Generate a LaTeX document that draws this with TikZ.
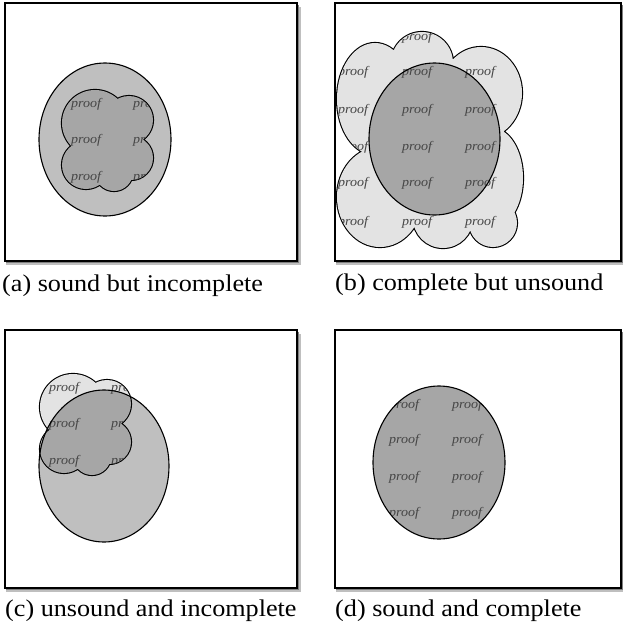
\documentclass[tikz,border=0pt]{standalone}
\usepackage{fontspec}
\setmainfont{Liberation Serif}
\definecolor{lightfill}{gray}{0.89}
\definecolor{midfill}{gray}{0.75}
\definecolor{darkfill}{gray}{0.65}
\definecolor{prooftext}{gray}{0.27}
% cloud of panels (a) and (c), union of circles
\newcommand{\cloudsmall}{(90,120) circle (33pt) (124,117) circle (24pt) (126,155) circle (22pt)
  (109,169) circle (19pt) (81,162) circle (24pt) (103,139) circle (28pt)}
% cloud of panel (b)
\newcommand{\cloudbig}{(40,96) ellipse (38pt and 56pt) (87,60) circle (31pt) (146,90) ellipse (41pt and 46pt)
  (157,175) ellipse (31pt and 50pt) (158,220) circle (24pt) (108,215) circle (30pt)
  (45,194) ellipse (43pt and 50pt) (95,138) circle (65pt)}
\begin{document}
\begin{tikzpicture}[x=1pt, y=-1pt,
  frame/.style={draw=black, line width=1.3pt, fill=white},
  shade1/.style={fill=black!25},
  shade2/.style={fill=black!50},
  rim/.style={draw=black, line width=1.1pt},
  cloudrim/.style={draw=black, line width=2.2pt},
  prooflabel/.style={text=prooftext, font=\fontsize{13}{15}\selectfont\itshape, xscale=1.08, inner sep=0pt},
  caption/.style={font=\fontsize{24}{28}\selectfont, xscale=1.09, inner sep=0pt, anchor=base west}]
\useasboundingbox (0,0) rectangle (622,627);

% (a) sound but incomplete
\begin{scope}[shift={(5,3)}]
\fill[shade1] (1,4) rectangle (296,262);
\fill[shade2] (1,2) rectangle (294,260);
\path[frame] (0,0) rectangle (292,258);
\fill[midfill] (100,136.5) ellipse (66pt and 76.5pt);
\path[cloudrim] \cloudsmall;
\fill[darkfill] \cloudsmall;
\begin{scope}
\clip \cloudsmall;
\foreach \c [count=\i] in {81,143}
  \foreach \r [count=\j] in {101,137,174}
    \node[prooflabel] (pa\i\j) at (\c,\r) {proof};
\end{scope}
\path[rim] (100,136.5) ellipse (66pt and 76.5pt);
\node[caption] (capa) at (-3,288) {(a) sound but incomplete};
\end{scope}

% (b) complete but unsound
\begin{scope}[shift={(335,3)}]
\fill[shade1] (1,4) rectangle (292,262);
\fill[shade2] (1,2) rectangle (290,260);
\path[frame] (0,0) rectangle (286,258);
\path[cloudrim] \cloudbig;
\fill[lightfill] \cloudbig;
\fill[darkfill] (99.5,136) ellipse (65.5pt and 76pt);
\begin{scope}
\clip \cloudbig;
\foreach \c [count=\i] in {18,82,145}
  \foreach \r [count=\j] in {34,69,107,144,180,219}
    \node[prooflabel] (pb\i\j) at (\c,\r) {proof};
\end{scope}
\path[rim] (99.5,136) ellipse (65.5pt and 76pt);
\node[caption] (capb) at (0,287) {(b) complete but unsound};
\end{scope}

% (c) unsound and incomplete
\begin{scope}[shift={(5,330)}]
\fill[shade1] (1,4) rectangle (296,262);
\fill[shade2] (1,2) rectangle (294,260);
\path[frame] (0,0) rectangle (292,258);
\begin{scope}[shift={(-22,-43)}]
\path[cloudrim] \cloudsmall;
\fill[lightfill] \cloudsmall;
\end{scope}
\fill[midfill] (99,136) ellipse (65pt and 76pt);
\begin{scope}
\clip (99,136) ellipse (65pt and 76pt);
\begin{scope}[shift={(-22,-43)}]
\path[cloudrim] \cloudsmall;
\fill[darkfill] \cloudsmall;
\end{scope}
\end{scope}
\begin{scope}[shift={(-22,-43)}]
\clip \cloudsmall;
\foreach \c [count=\i] in {81,143}
  \foreach \r [count=\j] in {101,137,174}
    \node[prooflabel] (pc\i\j) at (\c,\r) {proof};
\end{scope}
\path[rim] (99,136) ellipse (65pt and 76pt);
\node[caption] (capc) at (0,286) {(c) unsound and incomplete};
\end{scope}

% (d) sound and complete
\begin{scope}[shift={(335,330)}]
\fill[shade1] (1,4) rectangle (292,262);
\fill[shade2] (1,2) rectangle (290,260);
\path[frame] (0,0) rectangle (286,258);
\fill[darkfill] (104,132.5) ellipse (66pt and 76.5pt);
\begin{scope}
\clip (104,132.5) ellipse (66pt and 76.5pt);
\foreach \c [count=\i] in {69,132}
  \foreach \r [count=\j] in {75,110,147,183}
    \node[prooflabel] (pd\i\j) at (\c,\r) {proof};
\end{scope}
\path[rim] (104,132.5) ellipse (66pt and 76.5pt);
\node[caption] (capd) at (0,286) {(d) sound and complete};
\end{scope}
\end{tikzpicture}
\end{document}
